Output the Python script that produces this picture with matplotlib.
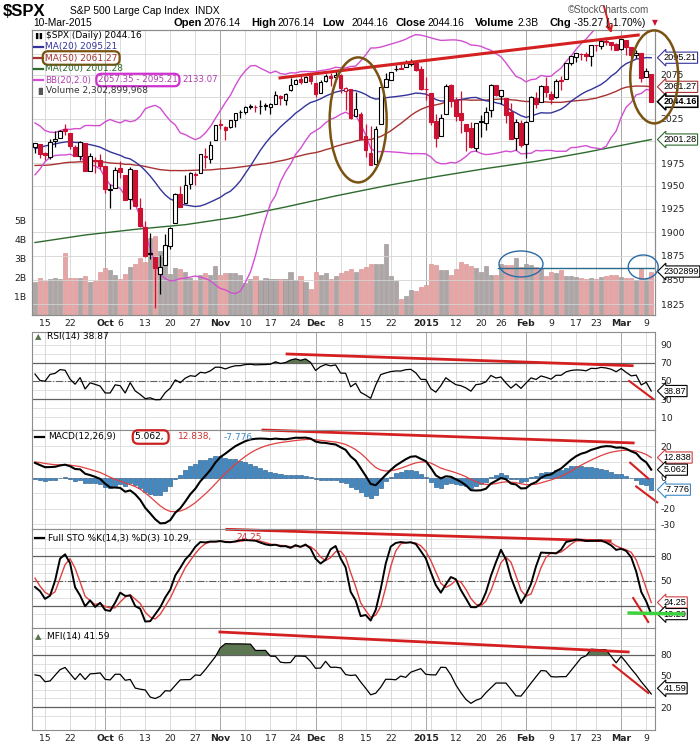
import numpy as np
import pandas as pd
import matplotlib
matplotlib.use("Agg")
import matplotlib.pyplot as plt
from matplotlib.patches import Ellipse
from matplotlib.lines import Line2D
from matplotlib.ticker import NullLocator, NullFormatter
from matplotlib.transforms import ScaledTranslation, blended_transform_factory

plt.rcParams['font.family'] = ['DejaVu Sans']

# ---------------------------------------------------------------- data
# warm-up closes 1 Jul - 12 Aug 2014 (only feed MA50 / MACD / RSI)
warm_close = [1973.32, 1974.62, 1985.44, 1977.65, 1963.71, 1972.83, 1964.68, 1967.57,
              1977.10, 1973.28, 1981.57, 1958.12, 1978.22, 1973.63, 1983.53, 1987.01,
              1987.98, 1978.34, 1978.91, 1969.95, 1970.07, 1930.67, 1925.15, 1938.99,
              1920.21, 1920.24, 1909.57, 1931.59, 1936.92, 1933.75]
# warm-up 13 Aug - 10 Sep 2014 (also feeds STO and MFI), volume in billions
warm_high = [1948.41, 1955.23, 1964.04, 1971.99, 1982.57, 1988.57, 1994.76, 1993.54, 2001.95, 2005.04,
             2002.14, 1998.55, 2003.38, 2006.12, 2009.28, 2011.17, 2007.71, 2007.17, 2001.01, 1996.66]
warm_low = [1935.60, 1947.41, 1941.50, 1958.36, 1972.73, 1977.68, 1986.82, 1984.76, 1991.74, 1998.59,
            1996.20, 1990.52, 1994.65, 1994.85, 1998.14, 1992.54, 1990.10, 1995.60, 1984.61, 1982.99]
warm_close2 = [1946.72, 1955.18, 1955.06, 1971.74, 1981.60, 1986.51, 1992.37, 1988.40, 1997.92, 2000.02,
               2000.12, 1996.74, 2003.37, 2002.28, 2000.72, 1997.65, 2007.71, 2001.54, 1988.44, 1995.69]
warm_vol = [1.8, 1.7, 2.0, 1.6, 1.6, 1.5, 1.6, 1.5, 1.5, 1.5, 1.4, 1.5, 1.4, 1.9, 1.9, 1.9, 1.8, 1.9, 2.0, 1.8]

# chart window 11 Sep 2014 - 10 Mar 2015
opens = [
    1992.85, 1996.74, 1986.04, 1981.93, 1999.30, 2003.07, 2012.74, 2009.08, 1992.78, 1983.34, 1997.32, 1966.22, 1978.96, 1978.21,
    1971.44, 1945.83, 1948.12, 1970.01, 1962.36, 1935.55, 1967.68, 1925.63, 1905.65, 1877.11, 1874.18, 1855.95, 1864.91, 1885.62,
    1909.38, 1941.29, 1931.02, 1951.59, 1962.97, 1964.14, 1983.29, 1979.49, 2001.20,
    2018.21, 2015.81, 2015.29, 2023.33, 2032.36, 2032.01, 2038.20, 2037.75, 2039.21, 2039.74, 2038.29, 2041.48, 2051.16, 2045.87,
    2057.46, 2065.07, 2070.15, 2067.36, 2074.78,
    2065.78, 2053.77, 2067.45, 2073.64, 2072.78, 2074.84, 2056.55, 2058.86, 2027.92, 2030.36, 2005.03, 1986.71, 1973.77, 2018.98,
    2061.04, 2069.28, 2081.48, 2083.25, 2084.30, 2087.63, 2088.49, 2082.11,
    2058.90, 2054.44, 2022.15, 2005.55, 2030.61, 2063.45, 2046.13, 2031.58, 2018.40, 2013.75, 1992.25, 2020.76, 2020.19, 2034.30,
    2062.98, 2050.42, 2047.86, 2032.34, 2002.45, 2019.35,
    1996.67, 2022.71, 2048.86, 2043.45, 2062.28, 2053.47, 2049.38, 2068.55, 2069.98, 2088.78, 2096.47, 2099.16, 2099.25, 2097.65,
    2109.83, 2109.10, 2115.30, 2113.91, 2110.88,
    2105.23, 2115.76, 2107.72, 2098.54, 2100.91, 2072.25, 2076.14]
highs = [
    1997.65, 1996.74, 1987.18, 2002.28, 2010.74, 2012.34, 2019.26, 2009.08, 1995.41, 1999.79, 1997.32, 1986.37, 1981.28, 1985.17,
    1971.44, 1952.32, 1971.19, 1977.84, 1962.36, 1970.36, 1967.68, 1936.98, 1912.09, 1898.71, 1874.18, 1876.01, 1898.16, 1905.03,
    1942.45, 1949.31, 1961.95, 1965.27, 1964.64, 1985.05, 1991.40, 1999.40, 2018.19,
    2024.46, 2015.98, 2023.77, 2031.61, 2034.26, 2038.70, 2041.28, 2040.33, 2046.18, 2042.22, 2043.07, 2056.08, 2052.14, 2053.84,
    2071.46, 2070.17, 2074.21, 2073.29, 2075.76,
    2065.78, 2068.77, 2076.28, 2077.34, 2079.47, 2075.78, 2060.60, 2058.86, 2055.53, 2032.25, 2018.69, 2016.89, 2016.75, 2061.23,
    2077.85, 2078.76, 2086.73, 2087.56, 2092.70, 2093.55, 2088.49, 2085.58,
    2072.36, 2054.44, 2030.25, 2029.61, 2064.08, 2064.43, 2049.30, 2056.93, 2018.40, 2021.35, 2020.46, 2028.94, 2038.29, 2064.62,
    2062.98, 2057.62, 2047.86, 2042.49, 2024.64, 2023.32,
    2021.66, 2050.30, 2054.74, 2063.55, 2072.40, 2056.16, 2070.86, 2073.48, 2088.53, 2097.03, 2101.30, 2100.23, 2102.13, 2110.61,
    2110.05, 2117.94, 2119.59, 2113.91, 2112.74,
    2117.52, 2115.76, 2107.72, 2104.25, 2100.91, 2083.49, 2076.14]
lows = [
    1985.93, 1980.26, 1978.48, 1979.06, 1993.29, 2003.07, 2006.59, 1991.01, 1982.77, 1978.63, 1965.99, 1966.22, 1964.04, 1968.96,
    1941.72, 1926.03, 1948.12, 1958.43, 1935.10, 1925.25, 1927.56, 1906.05, 1874.14, 1871.79, 1820.66, 1835.02, 1864.91, 1882.30,
    1909.38, 1926.83, 1931.02, 1946.27, 1951.37, 1964.14, 1969.04, 1974.75, 2001.20,
    2013.68, 2001.01, 2014.42, 2015.86, 2025.07, 2030.17, 2035.28, 2031.95, 2030.44, 2035.20, 2030.20, 2041.48, 2040.37, 2040.49,
    2056.75, 2065.07, 2064.75, 2066.62, 2065.06,
    2049.57, 2053.77, 2066.65, 2062.34, 2070.81, 2054.27, 2034.17, 2024.26, 2027.92, 2002.33, 1982.26, 1972.56, 1973.77, 2018.98,
    2061.03, 2069.28, 2079.77, 2081.86, 2084.30, 2085.75, 2079.53, 2057.94,
    2046.04, 2017.34, 1992.44, 2005.55, 2030.61, 2038.33, 2022.58, 2008.25, 1988.44, 1991.47, 1988.12, 2004.49, 2012.04, 2026.38,
    2050.54, 2040.97, 2019.91, 2001.49, 1989.18, 1993.38,
    1980.90, 2022.71, 2036.72, 2043.45, 2049.97, 2041.88, 2048.62, 2057.99, 2069.98, 2086.70, 2089.80, 2092.15, 2090.79, 2085.44,
    2103.00, 2105.87, 2109.89, 2103.76, 2103.75,
    2104.50, 2098.26, 2094.49, 2095.22, 2067.27, 2072.21, 2044.16]
closes = [
    1997.45, 1985.54, 1984.13, 1998.98, 2001.57, 2011.36, 2010.40, 1994.29, 1982.77, 1998.30, 1965.99, 1982.85, 1977.80, 1972.29,
    1946.16, 1946.17, 1967.90, 1964.82, 1935.10, 1968.89, 1928.21, 1906.13, 1874.74, 1877.70, 1862.49, 1862.76, 1886.76, 1904.01,
    1941.28, 1927.11, 1950.82, 1964.58, 1961.63, 1985.05, 1982.30, 1994.65, 2018.05,
    2017.81, 2012.10, 2023.57, 2031.21, 2031.92, 2038.26, 2039.68, 2038.25, 2039.33, 2039.82, 2041.32, 2051.80, 2048.72, 2052.75,
    2063.50, 2069.41, 2067.03, 2072.83, 2067.56,
    2053.44, 2066.55, 2074.33, 2071.92, 2075.37, 2060.31, 2059.82, 2026.14, 2035.33, 2002.33, 1989.63, 1972.74, 2012.89, 2061.23,
    2070.65, 2078.54, 2082.17, 2081.88, 2088.77, 2090.57, 2080.35, 2058.90,
    2058.20, 2020.58, 2002.61, 2025.90, 2062.14, 2044.81, 2028.26, 2023.03, 2011.27, 1992.67, 2019.42, 2022.55, 2032.12, 2063.15,
    2051.82, 2057.09, 2029.55, 2002.16, 2021.25, 1994.99,
    2020.85, 2050.03, 2041.51, 2062.52, 2055.47, 2046.74, 2068.59, 2068.53, 2088.48, 2096.99, 2100.34, 2099.68, 2097.45, 2110.30,
    2109.66, 2115.48, 2113.86, 2110.74, 2104.50,
    2117.39, 2107.78, 2098.53, 2101.04, 2071.26, 2079.43, 2044.16]
volume = [
    1.75, 1.98, 1.80, 1.90, 1.96, 1.88, 3.30, 1.98, 1.98, 1.98, 2.05, 1.74, 1.80, 2.30,
    2.50, 2.37, 2.10, 1.88, 2.16, 2.55, 2.70, 3.03, 2.80, 4.10, 4.20, 3.40, 2.75, 2.16,
    2.50, 2.45, 2.30, 1.96, 1.84, 2.12, 2.20, 2.10, 2.58,
    2.10, 2.20, 2.20, 2.20, 2.10, 1.67, 1.88, 2.09, 1.84, 1.96, 1.90, 1.90, 1.88, 1.90,
    2.30, 1.84, 2.09, 1.72, 1.40,
    2.30, 2.10, 2.20, 1.93, 2.05, 2.20, 2.33, 2.43, 2.28, 2.46, 2.54, 2.72, 2.68, 2.72,
    3.74, 2.05, 1.80, 0.84, 1.00, 1.32, 1.28, 1.46,
    1.58, 2.72, 2.63, 2.37, 2.37, 2.10, 2.46, 2.80, 2.72, 2.60, 2.50, 2.30, 2.60, 2.10,
    2.10, 2.72, 2.63, 2.63, 3.03, 2.54,
    2.72, 2.67, 2.54, 2.50, 2.05, 2.28, 2.20, 2.37, 2.07, 2.05, 2.00, 1.96, 1.88, 1.96,
    1.88, 2.00, 2.09, 2.14, 2.14,
    2.00, 1.96, 1.98, 1.84, 2.46, 1.90, 2.30]

# MA(200) at a few trading-day positions
ma200_pos = [0, 10, 20, 30, 40, 50, 60, 70, 80, 90, 100, 110, 120, 123]
ma200_val = [1889, 1897, 1903, 1908, 1916, 1927, 1939, 1950, 1960, 1969, 1977, 1987, 1998, 2001.28]

holidays = ['2014-11-27', '2014-12-25', '2015-01-01', '2015-01-19', '2015-02-16']
tick_days = ['2014-09-15', '2014-09-22', '2014-10-01', '2014-10-06', '2014-10-13', '2014-10-20', '2014-10-27',
             '2014-11-03', '2014-11-10', '2014-11-17', '2014-11-24', '2014-12-01', '2014-12-08', '2014-12-15',
             '2014-12-22', '2015-01-02', '2015-01-12', '2015-01-20', '2015-01-26', '2015-02-02', '2015-02-09',
             '2015-02-17', '2015-02-23', '2015-03-02', '2015-03-09']
tick_text = ['15', '22', 'Oct', '6', '13', '20', '27', 'Nov', '10', '17', '24', 'Dec', '8', '15', '22',
             '2015', '12', '20', '26', 'Feb', '9', '17', '23', 'Mar', '9']
month_names = ['Oct', 'Nov', 'Dec', '2015', 'Feb', 'Mar']
price_levels = [1825, 1850, 1875, 1900, 1925, 1950, 1975, 2000, 2025, 2050, 2075, 2100]
# labels that sit under the value tags on the right are left blank
price_text = ['1825', '1850', '1875', '1900', '1925', '1950', '1975', '', '2025', '', '2075', '']

# ---------------------------------------------------------------- calc
days = pd.bdate_range('2014-09-11', '2015-03-10')
days = days[~days.isin(pd.to_datetime(holidays))]
n = len(days)
assert n == len(opens) == len(highs) == len(lows) == len(closes) == len(volume)
x = np.arange(n)
tick_pos = days.get_indexer(pd.to_datetime(tick_days))
week_pos = [i for i in range(1, n) if days[i].weekday() < days[i - 1].weekday()]
month_pos = [i for i in range(1, n) if days[i].month != days[i - 1].month]

c_all = pd.Series(warm_close + warm_close2 + closes)
n0 = len(c_all) - n
ma20 = c_all.rolling(20).mean()
sd20 = c_all.rolling(20).std(ddof=0)
bb_up = (ma20 + 2 * sd20).values[n0:]
bb_dn = (ma20 - 2 * sd20).values[n0:]
ma50 = c_all.rolling(50).mean().values[n0:]
ma20 = ma20.values[n0:]
macd_s = c_all.ewm(span=12, adjust=False).mean() - c_all.ewm(span=26, adjust=False).mean()
sig_s = macd_s.ewm(span=9, adjust=False).mean()
macd = macd_s.values[n0:]
signal = sig_s.values[n0:]
hist = macd - signal
delta = c_all.diff()
up = delta.clip(lower=0).ewm(alpha=1 / 14, adjust=False).mean()
dn = (-delta.clip(upper=0)).ewm(alpha=1 / 14, adjust=False).mean()
rsi = (100 - 100 / (1 + up / dn)).values[n0:]

h2 = pd.Series(warm_high + highs)
l2 = pd.Series(warm_low + lows)
c2 = pd.Series(warm_close2 + closes)
v2 = pd.Series(warm_vol + volume)
m0 = len(h2) - n
fast_k = 100 * (c2 - l2.rolling(14).min()) / (h2.rolling(14).max() - l2.rolling(14).min())
full_k = fast_k.rolling(3).mean()
full_d = full_k.rolling(3).mean()
sto_k = full_k.values[m0:]
sto_d = full_d.values[m0:]
tp = (h2 + l2 + c2) / 3
mf = tp * v2
pos_mf = mf.where(tp > tp.shift(1), 0).rolling(14).sum()
neg_mf = mf.where(tp < tp.shift(1), 0).rolling(14).sum()
mfi = (100 - 100 / (1 + pos_mf / neg_mf)).values[m0:]

prev_close = np.r_[warm_close2[-1], closes[:-1]]
o = np.array(opens); hi_ = np.array(highs); lo_ = np.array(lows); c = np.array(closes)
down = c < prev_close

# ---------------------------------------------------------------- figure
W, H = 700, 748
RED = '#cc1133'
NAVY = '#34349a'
MA50C = '#a83232'
GREEN = '#2d6b2d'
MAG = '#d24fd2'
BROWN = '#7a5212'
BLUEA = '#2a6aa8'
OLIVE = '#5b7650'
GRID = '#d4d4d4'
MGRID = '#a8a8a8'

fig = plt.figure(figsize=(W / 100, H / 100), dpi=100, facecolor='white')


def rect(top, bottom):
    return [32 / W, 1 - bottom / H, 623 / W, (bottom - top) / H]


def fx(px):
    return px / W


def fy(py):
    return 1 - py / H


ax_vol = fig.add_axes(rect(30, 315))
ax = ax_vol.twinx()
ax_rsi = fig.add_axes(rect(332, 430))
ax_macd = fig.add_axes(rect(430, 529))
ax_sto = fig.add_axes(rect(529, 628))
ax_mfi = fig.add_axes(rect(628, 730))
panels = [ax_vol, ax_rsi, ax_macd, ax_sto, ax_mfi]

for a in panels + [ax]:
    a.set_xlim(-0.6, 123.75)
    for s in a.spines.values():
        s.set_color('#8c8c8c')
        s.set_linewidth(0.8)
    a.tick_params(length=0, labelsize=6.7, pad=4, colors='#222222')
for a in panels:
    for p in week_pos:
        a.axvline(p, color=GRID, lw=0.6, zorder=0)
    for p in month_pos:
        a.axvline(p, color=MGRID, lw=0.7, zorder=0)
    a.set_xticks(tick_pos)
    a.set_xticklabels(tick_text)
    for t in a.get_xticklabels():
        if t.get_text() in month_names:
            t.set_fontweight('bold')
for a in [ax_rsi, ax_macd, ax_sto]:
    a.tick_params(axis='x', labelbottom=False)
ax_vol.tick_params(axis='x', pad=3)
ax_mfi.tick_params(axis='x', pad=3)

# ---- volume (left scale) ----
ax_vol.set_ylim(0, 15.08)
ax_vol.set_yticks([1, 2, 3, 4, 5])
ax_vol.set_yticklabels(['1B', '2B', '3B', '4B', '5B'])
ax_vol.bar(x, volume, width=0.82, color=np.where(down, '#e6a4a4', '#aea6a6'),
           edgecolor=np.where(down, '#cf8c8c', '#969090'), lw=0.4, zorder=1)

# ---- price (log, right scale) ----
ax.set_yscale('log')
ax.set_ylim(1813.8, 2128)
ax.set_yticks(price_levels)
ax.set_yticklabels(price_text)
ax.yaxis.set_minor_locator(NullLocator())
ax.yaxis.set_minor_formatter(NullFormatter())
for v in price_levels:
    ax.axhline(v, color=GRID, lw=0.6, zorder=0)

ax.plot(ma200_pos, ma200_val, color=GREEN, lw=1.0, zorder=2)
ax.plot(x, ma50, color=MA50C, lw=1.0, zorder=2)
ax.plot(x, bb_up, color=MAG, lw=1.0, zorder=2)
ax.plot(x, bb_dn, color=MAG, lw=1.0, zorder=2)
ax.plot(x, ma20, color=NAVY, lw=1.0, zorder=2)

col = np.where(down, RED, 'black')
fill = [cc if cl < op else 'white' for cc, cl, op in zip(col, c, o)]
ax.vlines(x, lo_, hi_, colors=col, lw=0.9, zorder=3)
body_lo = np.minimum(o, c)
body_h = np.maximum(np.abs(c - o), 0.6)
ax.bar(x, body_h, bottom=body_lo, width=0.72, color=fill, edgecolor=col, lw=0.8, zorder=4)

# ---- RSI ----
ax_rsi.set_ylim(-4.4, 104.4)
ax_rsi.set_yticks([10, 30, 50, 70, 90])
ax_rsi.yaxis.tick_right()
for v in range(10, 100, 10):
    ax_rsi.axhline(v, color=GRID, lw=0.5, zorder=0)
ax_rsi.axhline(70, color='#606060', lw=0.9)
ax_rsi.axhline(30, color='#606060', lw=0.9)
ax_rsi.axhline(50, color='#606060', lw=0.8, ls='-.')
ax_rsi.fill_between(x, rsi, 70, where=rsi > 70, interpolate=True, color=OLIVE, lw=0)
ax_rsi.plot(x, rsi, color='black', lw=0.9)

# ---- MACD ----
ax_macd.set_ylim(-33, 30.5)
ax_macd.set_yticks([-30, -20, -10, 0, 10, 20])
ax_macd.set_yticklabels(['-30', '-20', '', '0', '', '20'])
ax_macd.yaxis.tick_right()
for v in range(-30, 30, 10):
    ax_macd.axhline(v, color=GRID, lw=0.5, zorder=0)
ax_macd.bar(x, hist, width=0.8, color='#3f89c4', edgecolor='#1f4f7d', lw=0.4, zorder=2)
ax_macd.plot(x, signal, color='#e04040', lw=0.9, zorder=3)
ax_macd.plot(x, macd, color='black', lw=1.5, zorder=4)

# ---- Full STO ----
ax_sto.set_ylim(-6.4, 112.4)
ax_sto.set_yticks([20, 50, 80])
ax_sto.set_yticklabels(['', '50', '80'])
ax_sto.yaxis.tick_right()
for v in range(10, 110, 10):
    ax_sto.axhline(v, color=GRID, lw=0.5, zorder=0)
ax_sto.axhline(80, color='#606060', lw=0.9)
ax_sto.axhline(20, color='#606060', lw=0.9)
ax_sto.axhline(50, color='#606060', lw=0.8, ls='-.')
ax_sto.plot(x, sto_d, color='#e04040', lw=1.0, zorder=3)
ax_sto.plot(x, sto_k, color='black', lw=1.4, zorder=4)

# ---- MFI ----
ax_mfi.set_ylim(-6.5, 111.1)
ax_mfi.set_yticks([20, 50, 80])
ax_mfi.yaxis.tick_right()
for t, txt in zip(ax_mfi.get_yticklabels(), ['20', '50', '80']):
    if txt == '50':
        t.set_va('bottom')      # sits just above the 41.59 tag, as on the original
for v in range(10, 110, 10):
    ax_mfi.axhline(v, color=GRID, lw=0.5, zorder=0)
ax_mfi.axhline(80, color='#606060', lw=0.9)
ax_mfi.axhline(20, color='#606060', lw=0.9)
ax_mfi.fill_between(x, mfi, 80, where=mfi > 80, interpolate=True, color=OLIVE, lw=0)
ax_mfi.plot(x, mfi, color='black', lw=0.9)


# ---------------------------------------------------------------- value tags
def tag(a, y, text, ec, bold=False, ytrans=None, lw=0.8):
    tr = blended_transform_factory(a.transAxes, (ytrans or a).transData)
    a.annotate(text, xy=(1.0, y), xycoords=tr, xytext=(6, 0), textcoords='offset points',
               ha='left', va='center', fontsize=6.6, family='Liberation Sans',
               fontweight='bold' if bold else 'normal', annotation_clip=False, zorder=20,
               bbox=dict(boxstyle='larrow,pad=0.12', fc='white', ec=ec, lw=lw))


tag(ax, 2095.21, '2095.21', NAVY)
tag(ax, 2061.27, '2061.27', MA50C)
tag(ax, 2044.16, '2044.16', 'black', bold=True, lw=1.1)
tag(ax, 2001.28, '2001.28', GREEN)
tag(ax, 2.30, '2302899', 'black', ytrans=ax_vol)
tag(ax_rsi, 38.87, '38.87', 'black')
tag(ax_macd, 12.838, '12.838', '#d04040')
tag(ax_macd, 5.062, '5.062', 'black')
tag(ax_macd, -7.776, '-7.776', '#3f89c4')
tag(ax_sto, 24.25, '24.25', '#d04040')
tag(ax_sto, 10.29, '10.29', 'black')
tag(ax_mfi, 41.59, '41.59', 'black')

# ---------------------------------------------------------------- hand drawn marks
ANN = '#d42020'
ax.plot([48.9, 120.4], [2071.6, 2122], color=ANN, lw=2.2, zorder=11, clip_on=False)
ax.annotate('', xy=(115.2, 2121), xytext=(113.4, 2160), annotation_clip=False,
            arrowprops=dict(arrowstyle='->', color=ANN, lw=1.4))


def ring(a, cx, cy, w_px, h_px, color, lw):
    tr = fig.dpi_scale_trans + ScaledTranslation(cx, cy, a.transData)
    fig.add_artist(Ellipse((0, 0), w_px / 100, h_px / 100, transform=tr, fill=False,
                           ec=color, lw=lw, zorder=12))


ring(ax, 64.5, 2023.4, 57, 125, BROWN, 1.8)
ring(ax, 123.6, 2072.8, 48, 93, BROWN, 1.8)
ring(ax_vol, 97.0, 2.70, 44, 26, BLUEA, 1.0)
ring(ax_vol, 121.4, 2.54, 30, 24, BLUEA, 1.0)
ax_vol.plot([92.4, 123.75], [2.47, 2.47], color='#2a6a8a', lw=1.0, zorder=5)

ax_rsi.plot([50.3, 119.2], [80, 67], color=ANN, lw=2.0, clip_on=False)
ax_rsi.plot([118.6, 123.4], [50, 30], color=ANN, lw=1.5, clip_on=False)
ax_macd.plot([45.5, 119.4], [30.5, 22.2], color=ANN, lw=2.0, clip_on=False)
ax_macd.plot([118.8, 122.4], [9.5, -0.6], color=ANN, lw=1.5, clip_on=False)
ax_macd.plot([120.0, 124.2], [-5.7, -15.9], color=ANN, lw=1.5, clip_on=False)
ax_sto.plot([38.3, 114.8], [112.0, 98], color=ANN, lw=2.0, clip_on=False)
ax_sto.plot([119.4, 122.4], [29.6, 0.8], color=ANN, lw=1.5, clip_on=False)
ax_sto.plot([118.6, 129.3], [11.6, 10.4], color='#3fd23f', lw=2.5, clip_on=False, zorder=25)
ax_mfi.plot([36.9, 118.4], [106.5, 83.5], color=ANN, lw=2.0, clip_on=False)
ax_mfi.plot([115.4, 122.4], [68.5, 36.2], color=ANN, lw=1.5, clip_on=False)

# ---------------------------------------------------------------- header and legends
LS = 'Liberation Sans'
fig.text(fx(3), fy(12), '$SPX', fontsize=12, weight='bold', family=LS, va='center')
fig.text(fx(70), fy(11), 'S&P 500 Large Cap Index  INDX', fontsize=7.4, family=LS, va='center')
fig.text(fx(568), fy(10), '\u00a9StockCharts.com', fontsize=7, family=LS, va='center', color='#555555')
fig.text(fx(33), fy(23), '10-Mar-2015', fontsize=7.4, family=LS, va='center')
hdr = [(173, 'Open', True), (204, '2076.14', False), (251, 'High', True), (277, '2076.14', False),
       (322, 'Low', True), (352, '2044.16', False), (395, 'Close', True), (428, '2044.16', False),
       (475, 'Volume', True), (518, '2.3B', False), (549, 'Chg', True), (574, '-35.27 (-1.70%)', False)]
for px, s, b in hdr:
    fig.text(fx(px), fy(23), s, fontsize=8 if b else 7.4, family=LS, va='center',
             weight='bold' if b else 'normal')
fig.text(fx(652), fy(23), '\u25bc', fontsize=5.5, color=RED, va='center')

FS = 6.5
fig.text(fx(35), fy(36), '\u258c\u258c', fontsize=4.5, va='center', color='black')
fig.text(fx(46), fy(36), '$SPX (Daily) 2044.16', fontsize=FS, va='center')
leg = [(47, 'MA(20) 2095.21', NAVY), (58, 'MA(50) 2061.27', MA50C), (69, 'MA(200) 2001.28', GREEN)]
for py, s, cc in leg:
    fig.add_artist(Line2D([fx(34), fx(43)], [fy(py), fy(py)], color=cc, lw=1.6))
    t = fig.text(fx(45), fy(py), s, fontsize=FS, va='center', color=cc)
    if s.startswith('MA(50)'):
        t.set_bbox(dict(boxstyle='round,pad=0.25,rounding_size=0.6', fc='none', ec=BROWN, lw=1.6))
fig.add_artist(Line2D([fx(34), fx(43)], [fy(80), fy(80)], color=MAG, lw=1.6))
fig.text(fx(45), fy(80), 'BB(20,2.0)', fontsize=6.2, va='center', color='#b03cb0')
fig.text(fx(98), fy(80), '2057.35 - 2095.21', fontsize=6.2, va='center', color='#b03cb0',
         bbox=dict(boxstyle='round,pad=0.2,rounding_size=0.6', fc='none', ec='#d030d0', lw=1.6))
fig.text(fx(182), fy(80), '2133.07', fontsize=6.2, va='center', color='#b03cb0')
fig.text(fx(35), fy(91), '\u2590\u258c', fontsize=5, va='center', color='#555555')
fig.text(fx(46), fy(91), 'Volume 2,302,899,968', fontsize=FS, va='center', color='#333333')

fig.text(fx(35), fy(337), '\u25b2', fontsize=6, va='center', color=OLIVE)
fig.text(fx(47), fy(337), 'RSI(14) 38.87', fontsize=FS, va='center')

fig.add_artist(Line2D([fx(35), fx(44)], [fy(437), fy(437)], color='black', lw=1.6))
fig.text(fx(48), fy(437), 'MACD(12,26,9)', fontsize=FS, va='center')
fig.text(fx(135), fy(437), '5.062, ', fontsize=FS, va='center',
         bbox=dict(boxstyle='round,pad=0.25,rounding_size=0.6', fc='none', ec='#cc2020', lw=1.6))
fig.text(fx(178), fy(437), '12.838,', fontsize=FS, va='center', color='#cc3030')
fig.text(fx(224), fy(437), '-7.776', fontsize=FS, va='center', color='#3f89c4')

fig.add_artist(Line2D([fx(35), fx(44)], [fy(538), fy(538)], color='black', lw=1.6))
fig.text(fx(48), fy(538), 'Full STO %K(14,3) %D(3) 10.29,', fontsize=FS, va='center')
fig.text(fx(236), fy(538), '24.25', fontsize=FS, va='center', color='#cc3030')

fig.text(fx(35), fy(637), '\u25b2', fontsize=6, va='center', color=OLIVE)
fig.text(fx(47), fy(637), 'MFI(14) 41.59', fontsize=FS, va='center')

fig.savefig('out.png', dpi=100, facecolor='white')
